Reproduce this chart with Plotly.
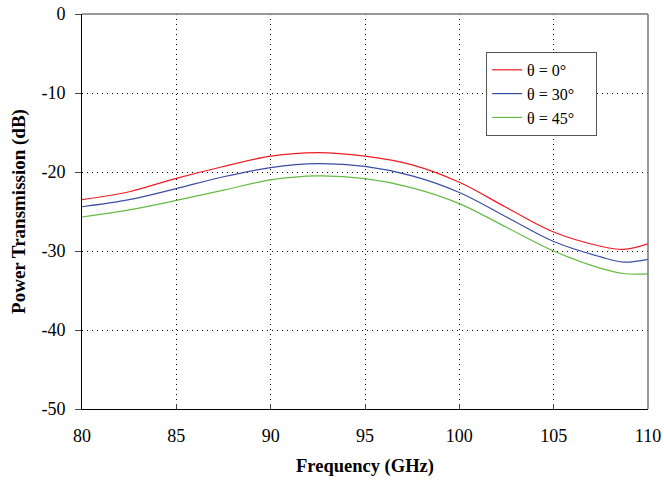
import plotly.graph_objects as go

freq = [80, 82.5, 85, 87.5, 90, 92.5, 95, 97.5, 100, 102.5, 105, 107.5, 108.7, 110]
t0 = [-23.5, -22.5, -20.8, -19.3, -18.0, -17.55, -18.0, -19.1, -21.3, -24.5, -27.6, -29.4, -29.8, -29.1]
t30 = [-24.4, -23.5, -22.1, -20.6, -19.45, -18.95, -19.3, -20.5, -22.6, -25.7, -28.8, -30.75, -31.4, -31.05]
t45 = [-25.7, -24.8, -23.6, -22.3, -21.0, -20.5, -20.85, -22.0, -24.0, -27.0, -30.0, -32.2, -32.85, -32.9]

ytick_vals = [0, -10, -20, -30, -40, -50]
ytick_text = ["0", "-10", "-20", "-30", "-40", "-50"]
xtick_vals = [80, 85, 90, 95, 100, 105, 110]

names = ["θ = 0°", "θ = 30°", "θ = 45°"]
colors = ["#ee1c24", "#3b4ea5", "#66bb44"]
series = [t0, t30, t45]

fig = go.Figure()
for n, c, s in zip(names, colors, series):
    fig.add_trace(go.Scatter(x=freq, y=s, name=n + "\u00a0\u00a0\u00a0\u00a0", mode="lines",
                             line=dict(color=c, width=1.2, shape="spline", smoothing=1.0)))

font = "Liberation Serif, Times New Roman, serif"
fig.update_layout(
    width=664, height=484,
    margin=dict(l=82, r=16, t=14, b=75),
    paper_bgcolor="white", plot_bgcolor="white",
    font=dict(family=font, size=18, color="black"),
    showlegend=True,
    legend=dict(x=0.714, y=0.904, xanchor="left", yanchor="top",
                bordercolor="#555555", borderwidth=1, bgcolor="white",
                font=dict(size=16, family=font), tracegroupgap=0),
)
fig.update_xaxes(range=[80, 110], tickvals=xtick_vals, showgrid=True, gridcolor="black",
                 griddash="1px,4px", gridwidth=1, showline=True, linecolor="black",
                 ticks="inside", ticklen=5, zeroline=False, automargin=False,
                 ticklabelstandoff=10, ticklabeloverflow="allow",
                 tickfont=dict(size=18, family=font),
                 title=dict(text="<b>Frequency (GHz)</b>", font=dict(size=18.5, family=font), standoff=14))
fig.update_yaxes(range=[-50, 0], tickvals=ytick_vals, ticktext=ytick_text, showgrid=True,
                 gridcolor="black", griddash="1px,4px", gridwidth=1, showline=True,
                 linecolor="black", ticks="outside", ticklen=6, zeroline=False,
                 automargin=False, ticklabelstandoff=6, ticklabeloverflow="allow",
                 tickfont=dict(size=18, family=font),
                 title=dict(text="<b>Power Transmission (dB)</b>", font=dict(size=19, family=font), standoff=10))
fig.add_shape(type="line", xref="paper", yref="paper", x0=1, x1=1, y0=0, y1=1,
              line=dict(color="#777777", width=1.5))
fig.add_shape(type="line", xref="paper", yref="paper", x0=0, x1=1, y0=1, y1=1,
              line=dict(color="#777777", width=1.5))
fig.write_html("out.html", config={"displayModeBar": False},
               post_script="document.body.style.margin='0';document.body.style.overflow='hidden';")
